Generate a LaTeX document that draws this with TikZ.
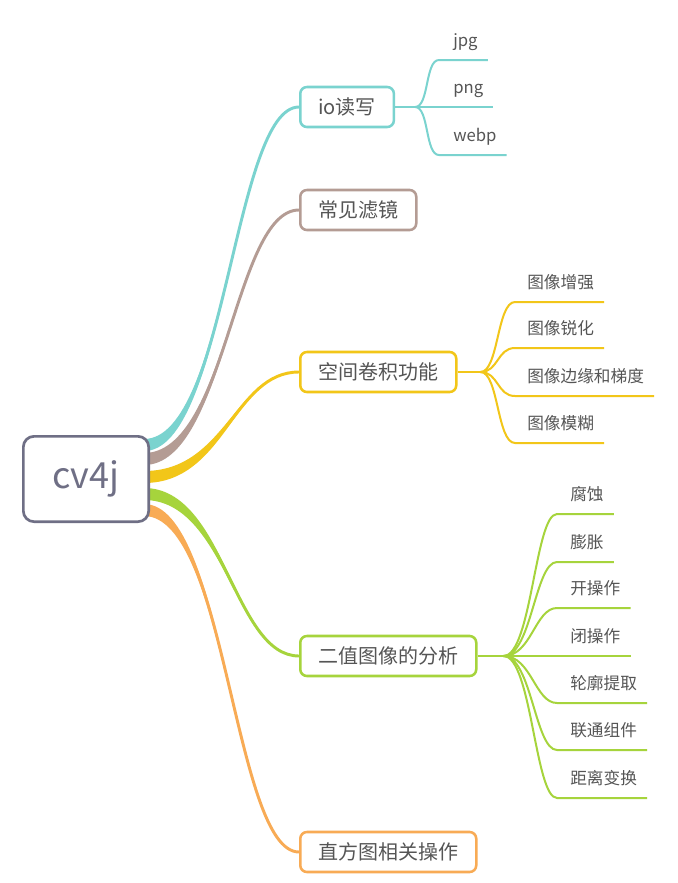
\documentclass[tikz,border=0pt]{standalone}
\usepackage{fontspec}
\setmainfont{Noto Sans CJK SC}
\usetikzlibrary{calc,backgrounds}
\definecolor{rootgray}{HTML}{6F6F85}
\definecolor{txtgray}{HTML}{555555}
\definecolor{cteal}{HTML}{7AD3CF}
\definecolor{cbrown}{HTML}{B49C94}
\definecolor{cyellow}{HTML}{F2C619}
\definecolor{cgreen}{HTML}{A6D43C}
\definecolor{corange}{HTML}{F8AB55}
\begin{document}
\begin{tikzpicture}[
        x=0.75pt, y=-0.75pt,
        root/.style={draw=rootgray, line width=2pt, rounded corners=8pt, fill=white, minimum width=94pt, minimum height=64pt, text=rootgray, font=\fontsize{27}{27}\selectfont},
        topic/.style={draw=#1, line width=1.9pt, rounded corners=5pt, fill=white, minimum height=30pt, inner xsep=13.5pt, anchor=west, text=txtgray, font=\fontsize{15}{15}\selectfont},
        leaf/.style={inner sep=0pt, anchor=base west, text=txtgray, font=\fontsize{12.5}{12.5}\selectfont},
        twig/.style={draw=#1, line width=1.5pt},
      ]
        \useasboundingbox (0,0) rectangle (678,883);

        \node[root] (root) at (86,479) {cv4j};

        % main topics
        \node[topic=cteal] (io) at (299,107) {io读写};
        \node[topic=cbrown] (filt) at (299,210) {常见滤镜};
        \node[topic=cyellow] (conv) at (299,372) {空间卷积功能};
        \node[topic=cgreen] (bin) at (299,656) {二值图像的分析};
        \node[topic=corange] (hist) at (299,852) {直方图相关操作};

        % tapered limbs from the root
        \begin{scope}[on background layer]
          \fill[white] (0,0) rectangle (678,883);
          \foreach \c/\n/\s in {cteal/io/-34, cbrown/filt/-20, cyellow/conv/-2, cgreen/bin/15, corange/hist/31} {
            \draw[\c, line width=2.2pt] ($(root.east)+(-6,\s)$) .. controls +(82,0) and +(-65,0) .. (\n.west);
            \fill[\c] ($(root.east)+(-6,\s-6)$) .. controls +(82,0) and +(-65,0) .. (\n.west)
              .. controls +(-65,0) and +(82,0) .. ($(root.east)+(-6,\s+6)$) -- cycle;
          }
        \end{scope}

        % io leaves
        \coordinate (iobp) at ($(io.east)+(20,0)$);
        \draw[twig=cteal] (io.east) -- (iobp);
        \foreach \txt/\y [count=\i] in {jpg/60, png/107, webp/155} {
          \coordinate (io\i) at (439,\y);
          \node[leaf] (iol\i) at ($(io\i)+(14,-14)$) {\txt};
          \draw[twig=cteal] (iobp) .. controls +(14,0) and +(-14,0) .. (io\i) -- ($(io\i -| iol\i.east)+(10,0)$);
        }

        % convolution leaves
        \coordinate (convbp) at ($(conv.east)+(23,0)$);
        \draw[twig=cyellow] (conv.east) -- (convbp);
        \foreach \txt/\y [count=\i] in {图像增强/302, 图像锐化/348, 图像边缘和梯度/396, 图像模糊/443} {
          \coordinate (cv\i) at (515,\y);
          \node[leaf] (cvl\i) at ($(cv\i)+(12,-14)$) {\txt};
          \draw[twig=cyellow] (convbp) .. controls +(18,0) and +(-18,0) .. (cv\i) -- ($(cv\i -| cvl\i.east)+(10,0)$);
        }

        % binary image leaves
        \coordinate (binbp) at ($(bin.east)+(26,0)$);
        \draw[twig=cgreen] (bin.east) -- (binbp);
        \foreach \txt/\y [count=\i] in {腐蚀/514, 膨胀/562, 开操作/608, 闭操作/656, 轮廓提取/703, 联通组件/750, 距离变换/798} {
          \coordinate (bn\i) at (557,\y);
          \node[leaf] (bnl\i) at ($(bn\i)+(13,-14)$) {\txt};
          \draw[twig=cgreen] (binbp) .. controls +(28,0) and +(-22,0) .. (bn\i) -- ($(bn\i -| bnl\i.east)+(10,0)$);
        }
      \end{tikzpicture}
\end{document}
